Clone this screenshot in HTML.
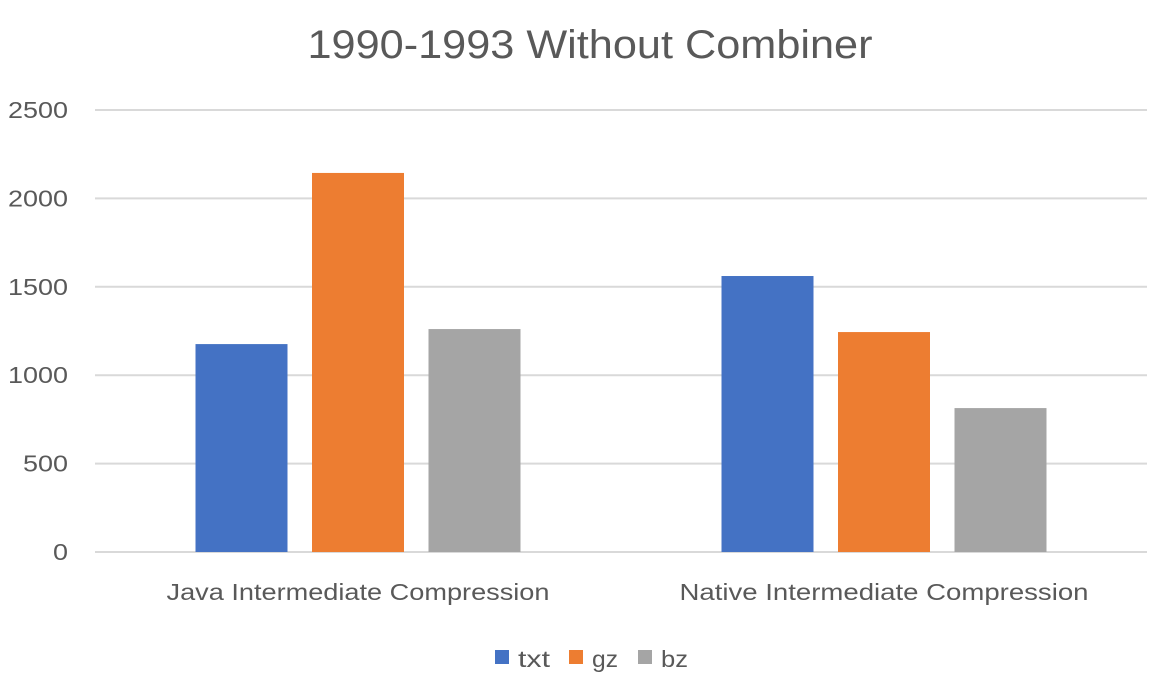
<!DOCTYPE html>
<html><head><meta charset="utf-8"><style>
body{margin:0;background:#fff;}
svg{display:block;font-family:"Liberation Sans",sans-serif;}
</style></head><body>
<svg id="chart" width="1169" height="688">
<text x="590" y="58" text-anchor="middle" font-size="40" fill="#595959" textLength="565" lengthAdjust="spacingAndGlyphs">1990-1993 Without Combiner</text>
<g id="grid"></g><g id="bars"></g><g id="labels"></g>
<g>
<rect x="495" y="650" width="14" height="14" fill="#4472C4"/>
<text x="518" y="667" font-size="23" fill="#595959" textLength="32" lengthAdjust="spacingAndGlyphs">txt</text>
<rect x="569" y="650" width="14" height="14" fill="#ED7D31"/>
<text x="592" y="667" font-size="23" fill="#595959" textLength="26" lengthAdjust="spacingAndGlyphs">gz</text>
<rect x="638" y="650" width="14" height="14" fill="#A5A5A5"/>
<text x="661" y="667" font-size="23" fill="#595959" textLength="27" lengthAdjust="spacingAndGlyphs">bz</text>
</g>
</svg>
<script>
const categories=["Java Intermediate Compression","Native Intermediate Compression"];
const seriesNames=["txt","gz","bz"];
const txt=[1176,1561];
const gz=[2144,1244];
const bz=[1261,814];
const yTicks=[0,500,1000,1500,2000,2500];
const colors=["#4472C4","#ED7D31","#A5A5A5"];
const NS="http://www.w3.org/2000/svg";
const x0=95,x1=1147,y0=552,yTop=110,yMax=2500;
const y=v=>y0-(v/yMax)*(y0-yTop);
const catW=(x1-x0)/categories.length;
const g=document.getElementById('grid'),b=document.getElementById('bars'),l=document.getElementById('labels');
yTicks.forEach(t=>{
 const ln=document.createElementNS(NS,'line');
 ln.setAttribute('x1',x0);ln.setAttribute('x2',x1);ln.setAttribute('y1',y(t));ln.setAttribute('y2',y(t));
 ln.setAttribute('stroke','#D9D9D9');ln.setAttribute('stroke-width','2');
 
 
 g.appendChild(ln);
 const tx=document.createElementNS(NS,'text');
 tx.setAttribute('x',68);tx.setAttribute('y',y(t)+8);tx.setAttribute('text-anchor','end');
 tx.setAttribute('font-size','23');tx.setAttribute('fill','#595959');tx.textContent=t;
 tx.setAttribute('textLength',String(t).length*15);
 tx.setAttribute('lengthAdjust','spacingAndGlyphs');
 
 
 l.appendChild(tx);
});
const series=[txt,gz,bz];
const bw=92,gap=24.5;
const catLens=[383,409];
categories.forEach((c,i)=>{
 const cx=x0+catW*(i+0.5);
 series.forEach((s,j)=>{
  const r=document.createElementNS(NS,'rect');
  const bx=cx+(j-1)*(bw+gap)-bw/2;
  r.setAttribute('x',bx);r.setAttribute('width',bw);
  r.setAttribute('y',y(s[i]));r.setAttribute('height',y0-y(s[i]));
  r.setAttribute('fill',colors[j]);
  
  
  b.appendChild(r);
 });
 const tx=document.createElementNS(NS,'text');
 tx.setAttribute('x',cx);tx.setAttribute('y',600);tx.setAttribute('text-anchor','middle');
 tx.setAttribute('font-size','23');tx.setAttribute('fill','#595959');tx.textContent=c;
 tx.setAttribute('textLength',catLens[i]);
 tx.setAttribute('lengthAdjust','spacingAndGlyphs');
 
 
 l.appendChild(tx);
});
</script>
</body></html>
